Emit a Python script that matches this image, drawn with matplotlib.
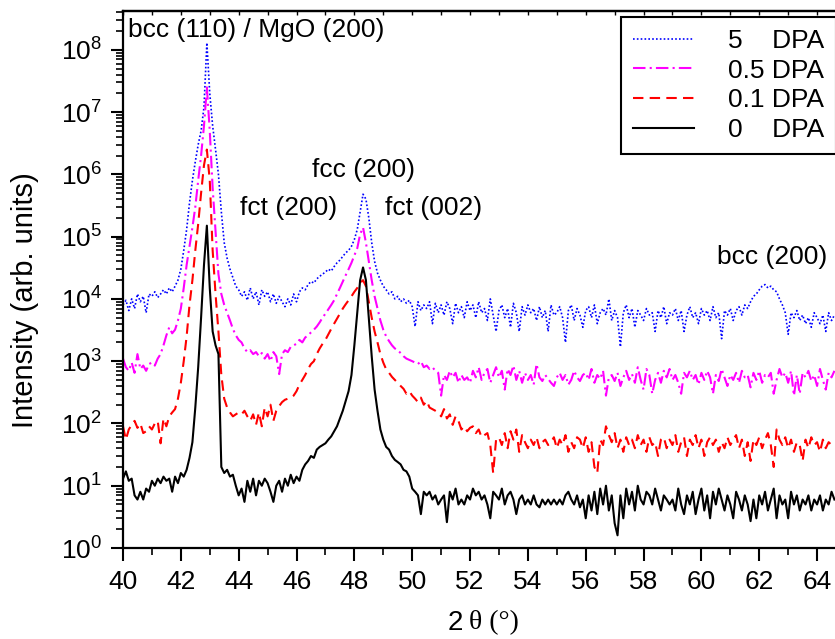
import numpy as np
import matplotlib
matplotlib.use('Agg')
import matplotlib.pyplot as plt
from matplotlib.ticker import MultipleLocator, LogLocator

plt.rcParams['font.family'] = 'Liberation Sans'

# 2 theta scan, 0.1 deg step
two_theta = np.round(np.arange(40.0, 64.65, 0.1), 1)

int_0 = [
    13, 17, 12, 13, 7, 6, 8, 6, 9, 8,                       # 40
    12, 10, 13, 11, 14, 12, 13, 8, 14, 11,                  # 41
    16, 14, 18, 28, 50, 180, 800, 5000, 3.5e4, 1.5e5,       # 42
    1.5e4, 3000, 1800, 1300, 20, 16, 18, 14, 15, 10,        # 43
    7, 9, 5.5, 12, 8, 13, 7, 12, 10, 13,                    # 44
    11, 8, 5.5, 10, 12, 8, 13, 10, 15, 11,                  # 45
    14, 12, 18, 22, 25, 30, 28, 38, 42, 45,                 # 46
    48, 55, 62, 75, 90, 120, 160, 230, 330, 600,            # 47
    1800, 6000, 2e4, 3.2e4, 2e4, 5000, 1200, 350, 160, 80,  # 48
    55, 42, 38, 30, 26, 24, 22, 18, 17, 14,                 # 49
    9, 8, 7, 3.5, 8, 7, 8, 6, 7, 5,                         # 50
    6, 7, 2.6, 8, 6, 9, 5, 6, 5, 7,                         # 51
    6, 9, 7, 8, 6, 7, 5, 3, 8, 7,                           # 52
    6, 9, 5, 7, 8, 6, 3.5, 6, 7, 5,                         # 53
    6, 5, 7, 5, 4.5, 6, 5, 6, 5, 6,                         # 54
    5, 6, 5, 7, 8, 6, 5, 7, 4.5, 6,                         # 55
    3, 7, 4, 8, 3.5, 9, 5, 10, 4, 7,                        # 56
    2.5, 1.6, 7, 3, 9, 5, 8, 4, 10, 6,                      # 57
    5, 8, 7, 5, 9, 6, 4, 7, 6, 5,                           # 58
    6, 4, 9, 5, 3.5, 7, 5, 8, 3.5, 6,                       # 59
    9, 4, 7, 3, 8, 5, 9, 6, 4, 7,                           # 60
    5, 3, 8, 6, 4, 7, 5, 2.7, 6, 3,                         # 61
    7, 5, 8, 4, 6, 9, 3, 7, 5, 6,                           # 62
    3, 8, 5, 7, 4, 6, 5, 7, 4, 6,                           # 63
    5, 7, 4, 6, 5, 8, 6,                                    # 64
]

int_01 = [
    90, 55, 80, 95, 110, 85, 100, 70, 75, 90,                     # 40
    80, 100, 110, 48, 120, 90, 130, 150, 170, 250,                # 41
    450, 1000, 2500, 8000, 2e4, 6e4, 1.6e5, 5e5, 1.4e6, 2.5e6,    # 42
    8e5, 6e4, 1.2e4, 3000, 600, 250, 180, 150, 130, 140,          # 43
    150, 140, 160, 130, 110, 140, 95, 150, 90, 180,               # 44
    130, 200, 110, 160, 190, 220, 240, 250, 260, 280,             # 45
    330, 420, 500, 600, 750, 900, 1000, 1300, 1600, 1900,         # 46
    2200, 2700, 3300, 4000, 4800, 5800, 7000, 8200, 9500, 1.1e4,  # 47
    1.3e4, 1.5e4, 1.8e4, 2e4, 1.6e4, 9000, 5000, 3000, 2000, 1300,  # 48
    950, 740, 650, 560, 500, 450, 400, 360, 300, 330,             # 49
    280, 250, 220, 260, 200, 230, 180, 170, 160, 150,             # 50
    130, 170, 120, 140, 95, 130, 110, 80, 90, 75,                 # 51
    85, 90, 70, 80, 60, 65, 70, 45, 16, 55,                       # 52
    60, 45, 70, 40, 75, 55, 80, 35, 65, 50,                       # 53
    40, 55, 45, 60, 40, 50, 55, 45, 50, 60,                       # 54
    40, 55, 45, 65, 35, 50, 40, 60, 55, 40,                       # 55
    60, 35, 50, 20, 16, 55, 45, 90, 65, 50,                       # 56
    70, 40, 55, 35, 60, 45, 55, 40, 65, 45,                       # 57
    55, 35, 60, 45, 50, 30, 55, 60, 40, 55,                       # 58
    45, 65, 35, 50, 60, 30, 55, 45, 65, 40,                       # 59
    55, 30, 50, 60, 45, 55, 35, 50, 40, 60,                       # 60
    45, 55, 65, 40, 55, 30, 50, 25, 55, 45,                       # 61
    60, 40, 55, 70, 45, 20, 80, 55, 45, 60,                       # 62
    40, 55, 35, 50, 45, 25, 55, 40, 60, 45,                       # 63
    50, 35, 55, 40, 50, 45, 40,                                   # 64
]

int_05 = [
    1100, 800, 700, 950, 650, 1300, 750, 850, 700, 900,           # 40
    950, 850, 1100, 1300, 1800, 2600, 3500, 2800, 3200, 4500,     # 41
    7000, 1.5e4, 3.5e4, 7e4, 1.4e5, 3e5, 8e5, 2e6, 6e6, 2.5e7,    # 42
    5e6, 6e5, 1.2e5, 2.5e4, 1.2e4, 8000, 6000, 4500, 3300, 2600,  # 43
    2200, 2000, 1600, 1400, 1500, 1300, 1400, 1200, 1350, 1100,   # 44
    1300, 1000, 1400, 1200, 620, 1300, 1500, 1400, 1700, 1800,    # 45
    1900, 2200, 2000, 2400, 2600, 2900, 3200, 3600, 4200, 5000,   # 46
    5800, 6800, 8000, 9500, 1.2e4, 1.5e4, 1.9e4, 2.4e4, 3e4, 3.8e4,  # 47
    5e4, 6.5e4, 1.1e5, 1.4e5, 8e4, 4e4, 2e4, 1.1e4, 7000, 4500,   # 48
    3200, 2500, 2100, 1800, 1600, 1500, 1350, 1200, 1100, 1050,   # 49
    1000, 950, 900, 1000, 800, 850, 750, 800, 700, 650,           # 50
    280, 600, 500, 700, 550, 650, 450, 600, 500, 550,             # 51
    450, 700, 550, 800, 500, 650, 750, 450, 600, 800,             # 52
    550, 700, 350, 750, 600, 850, 500, 700, 450, 650,             # 53
    500, 600, 420, 900, 550, 480, 600, 520, 450, 400,             # 54
    550, 650, 500, 600, 420, 500, 700, 550, 480, 600,             # 55
    650, 500, 750, 450, 600, 520, 700, 280, 550, 600,             # 56
    480, 650, 400, 550, 700, 500, 620, 450, 800, 500,             # 57
    350, 750, 600, 300, 500, 650, 450, 700, 550, 750,             # 58
    500, 600, 450, 300, 650, 550, 700, 500, 600, 420,             # 59
    650, 500, 700, 550, 300, 600, 480, 750, 550, 400,             # 60
    600, 500, 650, 450, 700, 550, 600, 380, 650, 500,             # 61
    700, 450, 600, 550, 650, 300, 500, 750, 550, 650,             # 62
    450, 700, 280, 600, 300, 650, 550, 700, 480, 600,             # 63
    400, 750, 500, 350, 650, 550, 700,                            # 64
]

int_5 = [
    8000, 9500, 6500, 1e4, 7000, 1.2e4, 9000, 1.1e4, 6000, 1.2e4,     # 40
    1.1e4, 1.3e4, 1.05e4, 1.2e4, 1.4e4, 1.2e4, 1.5e4, 1.3e4, 1.6e4, 2e4,  # 41
    3e4, 6e4, 1.3e5, 3.5e5, 8e5, 1.6e6, 3e6, 5e6, 1.2e7, 1.3e8,       # 42
    2e7, 6e6, 2.5e6, 1e6, 2.5e5, 8e4, 4.5e4, 3e4, 2.2e4, 1.6e4,       # 43
    1.4e4, 1.1e4, 1.3e4, 9500, 1.5e4, 1e4, 1.3e4, 8000, 1.4e4, 1.1e4, # 44
    1.3e4, 9000, 1.2e4, 8500, 1.1e4, 9000, 7500, 1e4, 8000, 1.2e4,    # 45
    9000, 1.3e4, 1.5e4, 1.4e4, 1.7e4, 1.9e4, 1.8e4, 2.1e4, 2.3e4, 2.5e4,  # 46
    2.7e4, 3e4, 2.8e4, 3.3e4, 3.8e4, 4.2e4, 4.8e4, 5.5e4, 6e4, 7e4,   # 47
    9e4, 1.3e5, 2.5e5, 4.8e5, 4e5, 2e5, 8e4, 4e4, 2.6e4, 2e4,         # 48
    1.6e4, 1.4e4, 1.2e4, 1.3e4, 1e4, 1.1e4, 9000, 1e4, 8500, 9500,    # 49
    7500, 3600, 9000, 6500, 8000, 7000, 9000, 4000, 8500, 6000,       # 50
    8000, 5500, 9000, 7000, 4000, 8500, 6000, 7500, 5000, 9000,       # 51
    6500, 8000, 5000, 9000, 6000, 7000, 4500, 1e4, 5500, 3000,        # 52
    6500, 8000, 5000, 7000, 3500, 8500, 6000, 3000, 7500, 5500,       # 53
    8000, 6000, 7000, 4500, 7500, 5000, 6500, 3000, 8000, 5500,       # 54
    6000, 7500, 5000, 2000, 6500, 8000, 4500, 7000, 5500, 3500,       # 55
    6500, 7500, 5000, 8000, 4000, 6000, 7000, 5500, 1e4, 4500,        # 56
    6500, 5000, 1700, 6000, 8000, 5000, 7000, 3500, 6500, 5500,       # 57
    4500, 7000, 5500, 6000, 3000, 6500, 5000, 7500, 4000, 6000,       # 58
    5500, 7000, 4500, 6500, 3000, 5500, 7500, 5000, 6000, 4000,       # 59
    7000, 5500, 6500, 4500, 7500, 5000, 6000, 2300, 6500, 5500,       # 60
    7000, 4500, 6500, 7500, 5500, 8000, 7000, 9000, 1.1e4, 1.2e4,     # 61
    1.4e4, 1.6e4, 1.7e4, 1.5e4, 1.6e4, 1.4e4, 1.3e4, 1e4, 8000, 6000, # 62
    2700, 6000, 5000, 6500, 4500, 5500, 4000, 5000, 3500, 6000,       # 63
    5000, 4000, 5500, 3000, 6000, 4500, 5500,                         # 64
]

labels = ['5    DPA', '0.5 DPA', '0.1 DPA', '0    DPA']
peaks = ['bcc (110) / MgO (200)', 'fcc (200)', 'fct (200)', 'fct (002)', 'bcc (200)']
peak_pos = [(40.17, 2.05e8), (48.32, 1.17e6), (45.72, 2.87e5), (50.74, 2.87e5), (62.44, 4.7e4)]

fig = plt.figure(figsize=(8.35, 6.39), dpi=100)
ax = fig.add_axes([123/835, 1 - 548/639, 717/835, 537/639])

ax.plot(two_theta, int_5, color='#0000ff', lw=1.2, ls=(0, (1, 1.3)), label=labels[0])
ax.plot(two_theta, int_05, color='#ff00ff', lw=1.5, ls=(0, (6, 2, 1, 2)), label=labels[1])
ax.plot(two_theta, int_01, color='#ff0000', lw=1.5, ls=(0, (5, 3)), label=labels[2])
ax.plot(two_theta, int_0, color='black', lw=1.5, label=labels[3])

ax.set_yscale('log')
ax.set_xlim(40, 40 + 717/28.92)
ax.set_ylim(1, 4.2e8)

ax.xaxis.set_major_locator(MultipleLocator(2))
ax.xaxis.set_minor_locator(MultipleLocator(1))
ax.yaxis.set_major_locator(LogLocator(base=10, numticks=20))
ax.yaxis.set_minor_locator(LogLocator(base=10, subs=np.arange(2, 10), numticks=20))
ax.tick_params(which='major', direction='out', length=9, width=1.5, labelsize=19, pad=6)
ax.tick_params(which='minor', direction='out', length=5, width=1.2)
ax.tick_params(axis='x', which='major', pad=7)
for s in ax.spines.values():
    s.set_linewidth(1.6)

top = ax.secondary_xaxis('top')
top.xaxis.set_major_locator(MultipleLocator(2))
top.xaxis.set_minor_locator(MultipleLocator(1))
top.tick_params(which='both', direction='in', length=3, width=1.0, labeltop=False)
top.spines['top'].set_linewidth(1.6)

for txt, (px, py) in zip(peaks, peak_pos):
    ha = 'left' if txt.startswith('bcc (110)') else 'center'
    ax.text(px, py, txt, fontsize=19, ha=ha, va='center')

ax.set_ylabel('Intensity (arb. units)', fontsize=21)
ax.yaxis.set_label_coords(-84/717, 248/537)
fig.text(455/835, 1 - 623/639, '2', fontsize=20, ha='center', va='center')
fig.text(469/835, 1 - 623/639, 'θ (°)', fontsize=20, ha='left', va='center',
         family='Liberation Serif')

leg = ax.legend(loc='upper left', bbox_to_anchor=(621/835, 1 - 17/639),
                bbox_transform=fig.transFigure, borderaxespad=0, fontsize=19,
                handlelength=2.3, handletextpad=1.3, labelspacing=0.22,
                borderpad=0.45, fancybox=False, framealpha=1, edgecolor='black')
leg.get_frame().set_linewidth(1.5)

fig.savefig('out.png', dpi=100)
